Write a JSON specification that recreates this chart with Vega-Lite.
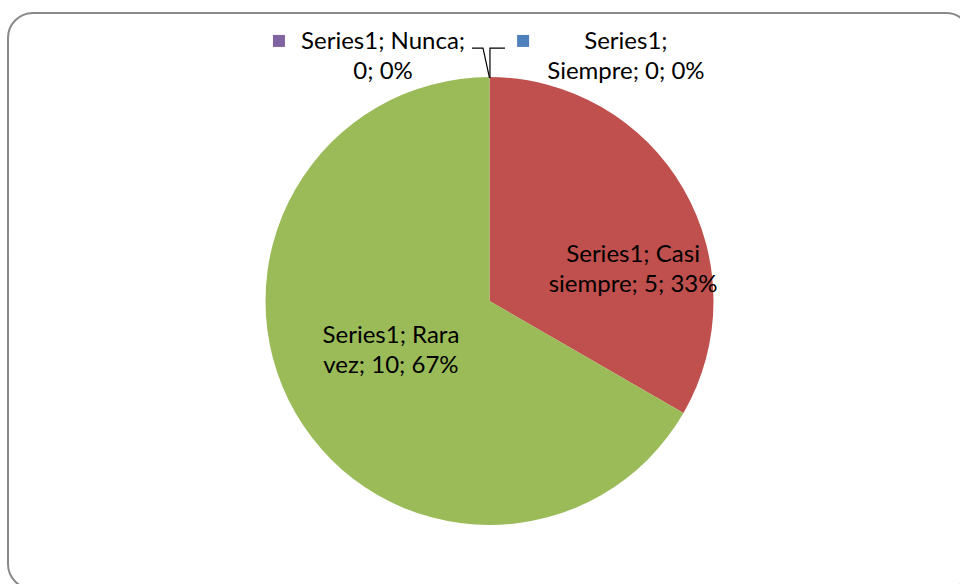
{
  "$schema": "https://vega.github.io/schema/vega-lite/v6.json",
  "autosize": "none",
  "width": 963,
  "height": 576,
  "padding": {"left": 8, "top": 13, "right": -11, "bottom": -5},
  "background": "white",
  "config": {
    "view": {"stroke": "#898989", "strokeWidth": 2, "cornerRadius": 25, "fill": "white"},
    "font": "Lato"
  },
  "datasets": {
    "pie": [
      {"category": "Siempre", "value": 0, "order": 1},
      {"category": "Casi siempre", "value": 5, "order": 2},
      {"category": "Rara vez", "value": 10, "order": 3},
      {"category": "Nunca", "value": 0, "order": 4}
    ],
    "labels": [
      {"label": "Series1; Casi\nsiempre; 5; 33%", "lx": 0.641, "ly": 0.205},
      {"label": "Series1; Rara\nvez; 10; 67%", "lx": -0.44, "ly": -0.156},
      {"label": "Series1; Nunca;\n0; 0%", "lx": -0.475, "ly": 1.156},
      {"label": "Series1;\nSiempre; 0; 0%", "lx": 0.609, "ly": 1.156}
    ],
    "leaders": [
      {"line": "Nunca", "seq": 1, "lx": -0.078, "ly": 1.129},
      {"line": "Nunca", "seq": 2, "lx": -0.029, "ly": 1.129},
      {"line": "Nunca", "seq": 3, "lx": 0, "ly": 0.996},
      {"line": "Siempre", "seq": 1, "lx": 0.069, "ly": 1.129},
      {"line": "Siempre", "seq": 2, "lx": 0.002, "ly": 1.129},
      {"line": "Siempre", "seq": 3, "lx": 0.002, "ly": 0.996}
    ],
    "keys": [
      {"category": "Nunca", "lx": -0.94, "ly": 1.161},
      {"category": "Siempre", "lx": 0.15, "ly": 1.161}
    ]
  },
  "layer": [
    {
      "data": {"name": "pie"},
      "mark": {"type": "arc", "radius": 224, "stroke": null},
      "encoding": {
        "theta": {"field": "value", "type": "quantitative", "stack": true},
        "order": {"field": "order", "type": "quantitative"},
        "color": {
          "field": "category",
          "type": "nominal",
          "scale": {
            "domain": ["Siempre", "Casi siempre", "Rara vez", "Nunca"],
            "range": ["#4F81BD", "#C0504D", "#9BBB59", "#8064A2"]
          },
          "legend": null
        }
      }
    },
    {
      "data": {"name": "leaders"},
      "mark": {"type": "line", "color": "#000000", "strokeWidth": 1.2},
      "encoding": {
        "x": {"field": "lx", "type": "quantitative", "scale": {"domain": [-2.1496, 2.1496], "nice": false, "zero": false}, "axis": null},
        "y": {"field": "ly", "type": "quantitative", "scale": {"domain": [-1.2857, 1.2857], "nice": false, "zero": false}, "axis": null},
        "detail": {"field": "line", "type": "nominal"},
        "order": {"field": "seq", "type": "quantitative"}
      }
    },
    {
      "data": {"name": "keys"},
      "mark": {"type": "point", "shape": "square", "filled": true, "size": 144, "opacity": 1},
      "encoding": {
        "x": {"field": "lx", "type": "quantitative", "scale": {"domain": [-2.1496, 2.1496], "nice": false, "zero": false}, "axis": null},
        "y": {"field": "ly", "type": "quantitative", "scale": {"domain": [-1.2857, 1.2857], "nice": false, "zero": false}, "axis": null},
        "color": {"field": "category", "type": "nominal", "legend": null}
      }
    },
    {
      "data": {"name": "labels"},
      "mark": {"type": "text", "font": "Lato", "fontSize": 24, "lineHeight": 30, "lineBreak": "\n", "align": "center", "baseline": "middle", "color": "#000000"},
      "encoding": {
        "x": {"field": "lx", "type": "quantitative", "scale": {"domain": [-2.1496, 2.1496], "nice": false, "zero": false}, "axis": null},
        "y": {"field": "ly", "type": "quantitative", "scale": {"domain": [-1.2857, 1.2857], "nice": false, "zero": false}, "axis": null},
        "text": {"field": "label", "type": "nominal"}
      }
    }
  ],
  "resolve": {"scale": {"color": "shared"}}
}
